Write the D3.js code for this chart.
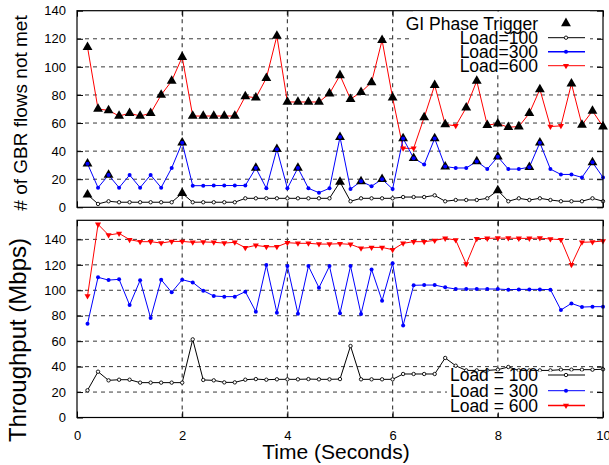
<!DOCTYPE html>
<html><head><meta charset="utf-8">
<script src="https://cdn.jsdelivr.net/npm/d3@7"></script>
<style>body{margin:0;background:#fff}svg{display:block}text{font-family:"Liberation Sans",Arial,sans-serif}</style>
</head><body><svg id="c" width="609" height="465"></svg>
<script>
const times = [0.2,0.4,0.6,0.8,1.0,1.2,1.4,1.6,1.8,2.0,2.2,2.4,2.6,2.8,3.0,3.2,3.4,3.6,3.8,4.0,4.2,4.4,4.6,4.8,5.0,5.2,5.4,5.6,5.8,6.0,6.2,6.4,6.6,6.8,7.0,7.2,7.4,7.6,7.8,8.0,8.2,8.4,8.6,8.8,9.0,9.2,9.4,9.6,9.8,10.0];
const gbr100 = [9,2.4,4.3,3.6,3.6,3.6,3.6,3.6,3.6,10,3.6,3.6,3.6,3.6,3.6,6.4,6.4,6.4,6.4,6.4,6.4,6.4,6.4,6.4,18,4.3,6.4,6.4,6.4,6.4,7.3,7.3,7.3,8.5,4.3,5.2,5.2,5.2,6.4,12,4.3,6.4,5.2,6.4,5.2,4.3,4.3,4.3,6.4,4.3];
const gbr300 = [31,14,23,14,23,14,23,14,28,46,15.4,15.4,15.5,15.5,15.5,15.5,28,13.5,41.4,13.5,28,13.5,10.4,13.5,50,13,18.5,15,20,13,49,35,30.5,49,29,28,28,32.7,27.2,36,27.2,27.2,28.6,46,27.2,23.4,23.4,21.3,32,21.3];
const gbr600 = [114,70,69,65,67,65,67,80,90,107,65,65,65,65,65,79,78,92,122,75,75,75,75,81,94,77,82,89,119,78,42,42,64,87,59,58,71,90,58.5,59.6,57,57.5,67,84,57.5,58,88,58.7,68.6,57.5];
const trig100 = [0.2,2.0,5.0,8.0];
const trig300 = [0.2,0.6,2.0,3.4,3.8,4.2,5.0,5.4,5.8,6.2,6.4,6.8,7.0,7.6,8.0,8.6,8.8,9.8];
const trig600 = [0.2,0.4,0.6,0.8,1.0,1.2,1.4,1.6,1.8,2.0,2.2,2.4,2.6,2.8,3.0,3.2,3.4,3.6,3.8,4.0,4.2,4.4,4.6,4.8,5.0,5.2,5.4,5.6,5.8,6.0,6.6,6.8,7.0,7.4,7.6,7.8,8.0,8.2,8.4,8.6,8.8,9.4,9.6,9.8,10.0];
const thr100 = [21.4,36,29.2,29.7,29.7,27.4,27.4,27.4,27.4,27.4,61.4,29.5,29.2,27.6,27.6,29.7,30.2,29.7,30,30,30,30.2,30,30,30.2,56.2,30,30,30,30,34.2,34.2,34.2,34.2,46.8,40.7,37,37,37,37.6,39.7,37,37,37,37,37.6,37.6,37.6,37.6,37.9];
const thr300 = [73.7,110.2,108,108.6,88.4,107.8,78.2,108.3,98.4,108.3,106.2,99.7,95.5,95,95,98.9,83.2,119.8,82.4,119,81.6,119,102,119,81.9,119,81.3,116.4,91.8,121.2,72.4,103.9,104.1,104.1,102.3,101,101,101,101,101,100.5,100.7,100.7,100.7,100.5,84.5,89.7,86.8,87.1,87.1];
const thr600 = [95.5,151.8,143.4,144.7,139.8,138.2,138.2,137.1,138.4,138.4,137.7,138,137.7,137.1,137.7,133.5,135.3,134.2,134.2,137.4,136.9,136.9,136.3,136.3,136.6,136.1,133,133.7,133.7,131.9,136.9,138.2,138.2,139.2,140.8,139.5,120.6,140.5,140.8,141,141,140.8,140.8,141,140.3,139.8,120.1,137.7,138,138.7];
const xTicks = [0,2,4,6,8,10];
const yTicksTop = [0,20,40,60,80,100,120,140];
const yTicksBot = [0,20,40,60,80,100,120,140];
const legendTop = ["GI Phase Trigger","Load=100","Load=300","Load=600"];
const legendBot = ["Load = 100","Load = 300","Load = 600"];

const svg = d3.select("#c");
const X0 = 77, X1 = 603;
const x = d3.scaleLinear().domain([0,10]).range([X0,X1]);
const yT = d3.scaleLinear().domain([0,140]).range([207.3,10.7]);
const yB = d3.scaleLinear().domain([0,155]).range([417.5,220.3]);
const cols = {c100:"#000000", c300:"#0000ff", c600:"#ff0000"};
const triUp = d3.symbol().type(d3.symbolTriangle).size(42);
const triDn = d3.symbol().type(d3.symbolTriangle).size(16);

function panel(y, yTicks, showX){
  const g = svg.append("g");
  const [yb, yt] = y.range();
  g.selectAll(".hg").data(yTicks.filter(v=>v>0 && y(v)>yt+1)).join("line")
    .attr("x1",X0).attr("x2",X1).attr("y1",d=>y(d)).attr("y2",d=>y(d))
    .attr("stroke","#222").attr("stroke-width",0.9).attr("stroke-dasharray","4,4");
  g.selectAll(".vg").data(xTicks.filter(v=>v>0&&v<10)).join("line")
    .attr("x1",d=>x(d)).attr("x2",d=>x(d)).attr("y1",yb).attr("y2",yt)
    .attr("stroke","#444").attr("stroke-width",1.2).attr("stroke-dasharray","4,4");
  const yl = d3.axisLeft(y).tickValues(yTicks).tickSize(-6).tickPadding(11);
  const yr = d3.axisRight(y).tickValues(yTicks).tickSize(-6);
  const xb = d3.axisBottom(x).tickValues(xTicks).tickSize(-6).tickPadding(13).tickFormat(d3.format("d"));
  const xt = d3.axisTop(x).tickValues(xTicks).tickSize(-6);
  const style = a => { a.select(".domain").remove(); a.selectAll("line").attr("stroke","#000"); a.selectAll("text").attr("font-size",13).attr("fill","#000").attr("font-family","Liberation Sans, Arial, sans-serif"); };
  const noText = a => a.selectAll("text").remove();
  g.append("g").attr("transform",`translate(${X0},0)`).call(yl).call(style);
  g.append("g").attr("transform",`translate(${X1},0)`).call(yr).call(style).call(noText);
  const gx = g.append("g").attr("transform",`translate(0,${yb})`).call(xb).call(style);
  if(!showX) gx.call(noText);
  g.append("g").attr("transform",`translate(0,${yt})`).call(xt).call(style).call(noText);
  return g;
}

function series(g, y, vals, color){
  const pts = times.map((t,i)=>[t,vals[i]]);
  g.append("path").datum(pts).attr("fill","none").attr("stroke",color).attr("stroke-width",1)
    .attr("d", d3.line().x(d=>x(d[0])).y(d=>y(d[1])));
  return pts;
}
function markers(g, y, pts, color, kind, skip){
  const sel = pts.filter(p=>!(skip||[]).some(s=>Math.abs(s-p[0])<1e-6));
  if(kind==="circ"){
    g.selectAll(null).data(sel).join("circle").attr("cx",d=>x(d[0])).attr("cy",d=>y(d[1])).attr("r",1.7)
      .attr("fill","#fff").attr("stroke",color).attr("stroke-width",0.9);
  } else if(kind==="dot"){
    g.selectAll(null).data(sel).join("circle").attr("cx",d=>x(d[0])).attr("cy",d=>y(d[1])).attr("r",2)
      .attr("fill",color);
  } else {
    g.selectAll(null).data(sel).join("path").attr("d",triDn)
      .attr("transform",d=>`translate(${x(d[0])},${y(d[1])}) rotate(180)`).attr("fill",color);
  }
}
function triggers(g, y, trig, vals){
  const pts = trig.map(t=>{const i=times.findIndex(v=>Math.abs(v-t)<1e-6); return [t, vals[i]];});
  g.selectAll(null).data(pts).join("path").attr("d",triUp)
    .attr("transform",d=>`translate(${x(d[0])},${y(d[1])})`).attr("fill","#000");
}

// top panel
const gT = panel(yT, yTicksTop, false);
const p600 = series(gT,yT,gbr600,cols.c600);
const p300 = series(gT,yT,gbr300,cols.c300);
const p100 = series(gT,yT,gbr100,cols.c100);
markers(gT,yT,p600,cols.c600,"tri",trig600);
markers(gT,yT,p100,cols.c100,"circ",trig100);
triggers(gT,yT,trig600,gbr600);
triggers(gT,yT,trig300,gbr300);
triggers(gT,yT,trig100,gbr100);
markers(gT,yT,p300,cols.c300,"dot");

// bottom panel
const gB = panel(yB, yTicksBot, true);
const q600 = series(gB,yB,thr600,cols.c600);
const q300 = series(gB,yB,thr300,cols.c300);
const q100 = series(gB,yB,thr100,cols.c100);
markers(gB,yB,q600,cols.c600,"tri");
markers(gB,yB,q300,cols.c300,"dot");
markers(gB,yB,q100,cols.c100,"circ");

// borders
[yT,yB].forEach(y=>{
  const [yb,yt]=y.range();
  svg.append("rect").attr("x",X0).attr("y",yt).attr("width",X1-X0).attr("height",yb-yt)
    .attr("fill","none").attr("stroke","#000").attr("stroke-width",1.2);
});

// legends
function legend(rows, x0, y0, w, h, textX, rowY, kinds){
  const lg = svg.append("g");
  lg.append("rect").attr("x",x0).attr("y",y0).attr("width",w).attr("height",h).attr("fill","#fff");
  rows.forEach((lab,i)=>{
    const yy = rowY[i];
    lg.append("text").attr("x",textX).attr("y",yy+6.3).attr("text-anchor","end").attr("font-size",17.5).attr("fill","#000").text(lab);
    const k = kinds[i];
    if(k.line){ lg.append("line").attr("x1",548).attr("x2",585).attr("y1",yy).attr("y2",yy).attr("stroke",k.color).attr("stroke-width",k.w||1); }
    if(k.m==="tri") lg.append("path").attr("d",triUp).attr("transform",`translate(566,${yy})`).attr("fill","#000");
    if(k.m==="circ") lg.append("circle").attr("cx",566).attr("cy",yy).attr("r",1.7).attr("fill","#fff").attr("stroke","#000").attr("stroke-width",0.9);
    if(k.m==="dot") lg.append("circle").attr("cx",566).attr("cy",yy).attr("r",2).attr("fill",k.color);
    if(k.m==="dn") lg.append("path").attr("d",triDn).attr("transform",`translate(566,${yy}) rotate(180)`).attr("fill",k.color);
  });
}
legend(legendTop, 413, 11.5, 177, 61, 538, [23.3,37.7,51.7,65.7],
  [{m:"tri"},{line:true,color:"#000",m:"circ"},{line:true,color:"#0000ff",m:"dot",w:1.5},{line:true,color:"#ff0000",m:"dn"}]);
legend(legendBot, 447, 371.5, 143, 41, 538, [375,390.7,405.5],
  [{line:true,color:"#000",m:"circ"},{line:true,color:"#0000ff",m:"dot"},{line:true,color:"#ff0000",m:"dn",w:1.5}]);

// axis titles
svg.append("text").attr("transform","translate(27,113) rotate(-90)").attr("text-anchor","middle").attr("font-size",19).attr("fill","#000").text("# of GBR flows not met");
svg.append("text").attr("transform","translate(26,340) rotate(-90)").attr("text-anchor","middle").attr("font-size",24).attr("fill","#000").text("Throughput (Mbps)");
svg.append("text").attr("x",336).attr("y",459).attr("text-anchor","middle").attr("font-size",21).attr("fill","#000").text("Time (Seconds)");
</script></body></html>
